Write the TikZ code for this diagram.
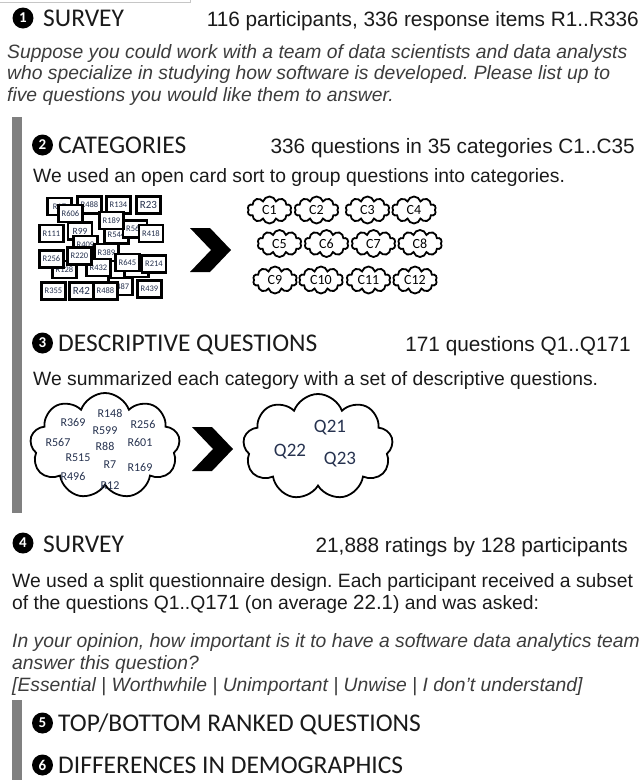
\documentclass[tikz,border=0pt]{standalone}
\usepackage{fontspec}
\setmainfont{Liberation Sans}
\newfontfamily\calfont{Carlito}
\usetikzlibrary{shapes.symbols}
\frenchspacing

\definecolor{bargray}{HTML}{808080}
\definecolor{ink}{HTML}{1A1A1A}
\definecolor{cardink}{HTML}{26324F}

\tikzset{
  stepnum/.style={circle, fill=black, text=white, inner sep=0pt, minimum size=21pt,
    font=\calfont\bfseries\fontsize{15}{15}\selectfont},
  head/.style={anchor=base west, inner sep=0pt, text=ink, font=\calfont\fontsize{25.5}{25.5}\selectfont},
  stat/.style={anchor=base east, inner sep=0pt, text=ink, font=\fontsize{20.8}{20.8}\selectfont},
  body/.style={anchor=base west, inner sep=0pt, text=ink, font=\fontsize{19.3}{19.3}\selectfont},
  quote/.style={body, text=ink!85, font=\itshape\fontsize{19.3}{19.3}\selectfont},
  card/.style={draw, line width=2.2pt, fill=white, inner sep=0pt, minimum width=24pt,
    minimum height=17pt, text=cardink},
  catcloud/.style={cloud, cloud puffs=10, cloud puff arc=150, cloud ignores aspect, draw,
    line width=1.8pt, fill=white, inner sep=0pt, minimum width=44pt, minimum height=27pt,
    font=\calfont\fontsize{14}{14}\selectfont},
  bigcloud/.style={cloud, cloud puffs=9, cloud puff arc=140, cloud ignores aspect, draw,
    line width=1.8pt, inner sep=0pt, minimum width=150pt, minimum height=106pt},
  rtag/.style={text=cardink, inner sep=0pt, font=\calfont\fontsize{12}{12}\selectfont},
  qtag/.style={text=cardink, inner sep=0pt, font=\calfont\fontsize{19}{19}\selectfont},
}

\newcommand{\chevronat}[2]{%
  \fill[black, shift={(#1,#2)}] (0,0) -- (20,0) -- (41,22) -- (20,44) -- (0,44) -- (21,22) -- cycle;}

\begin{document}
\begin{tikzpicture}[x=1pt, y=-1pt]
  \useasboundingbox (0,0) rectangle (643,780);

  \draw[gray!45, line width=0.6pt] (0,2) -- (190,2) -- (190,0);

  % side bars
  \fill[bargray] (12,117) rectangle (22,513);
  \fill[bargray] (12,700) rectangle (22,780);

  % 1 survey
  \node[stepnum] (n1) at (23,18) {1};
  \node[head] (h1) at (43,26) {SURVEY};
  \node[stat] (s1) at (639,26) {116 participants, 336 response items R1..R336};
  \node[quote] (q1a) at (7,58) {Suppose you could work with a team of data scientists and data analysts};
  \node[quote] (q1b) at (7,79.5) {who specialize in studying how software is developed. Please list up to};
  \node[quote] (q1c) at (7,101) {five questions you would like them to answer.};

  % 2 categories
  \node[stepnum] (n2) at (42.5,145) {2};
  \node[head] (h2) at (58,153) {CATEGORIES};
  \node[stat] (s2) at (635,153) {336 questions in 35 categories C1..C35};
  \node[body] (b2) at (33,182) {We used an open card sort to group questions into categories.};

  \foreach \cx/\cy/\lab/\fs [count=\i] in {
      59.5/206.5/R17/8.5, 89.5/205/R488/8.5, 118.5/205/R134/8.5, 148.5/205/R23/11,
      70.5/213.5/R606/8.5, 51.5/233.5/R111/8.5, 80/231/R99/9.5, 116.5/235/R544/8.5,
      135/229/R563/8.5, 111.5/220.5/R189/8.5, 151/233.5/R418/8.5,
      85.5/244.5/R409/8.5, 106.5/252.5/R389/8.5, 64.5/269.5/R128/8.5,
      136.5/268.5/{}/8.5, 51.5/259/R256/8.5, 98.5/267.5/R432/8.5,
      79.5/256/R220/8.5, 127.5/262.5/R645/8.5, 154/264/R214/8.5,
      120.5/286.5/R487/8.5, 53.5/291/R355/8.5, 81.5/291/R42/11,
      105.5/291/R488/8.5, 149.5/289/R439/8.5}
    \node[card, font=\calfont\fontsize{\fs}{\fs}\selectfont] (card\i) at (\cx,\cy) {\lab};

  \chevronat{190}{228}

  \foreach \lab/\cx/\cy in {
      C1/269.5/210, C2/316.5/210, C3/367.5/210, C4/414/210,
      C5/279.5/243.5, C6/326.5/243.5, C7/373.5/243.5, C8/420/243.5,
      C9/275/280, C10/321/280, C11/368.5/280, C12/415/280}
    \node[catcloud] (\lab) at (\cx,\cy) {\lab};

  % 3 descriptive questions
  \node[stepnum] (n3) at (42.5,343) {3};
  \node[head] (h3) at (58,351) {DESCRIPTIVE QUESTIONS};
  \node[stat] (s3) at (631,351) {171 questions Q1..Q171};
  \node[body] (b3) at (33,385) {We summarized each category with a set of descriptive questions.};

  \node[bigcloud] (pile) at (105,446) {};
  \foreach \lab/\cx/\cy in {
      R369/73/422, R148/110/413, R256/143/424, R599/105/431,
      R567/58/442, R88/105/446, R601/140/442, R515/78/458,
      R7/110/465, R169/140/467, R496/73/476, R12/110/486}
    \node[rtag] (t\lab) at (\cx,\cy) {\lab};

  \chevronat{192}{427}

  \node[bigcloud] (desc) at (318,447) {};
  \node[qtag] (Q21) at (330,428) {Q21};
  \node[qtag] (Q22) at (290,452) {Q22};
  \node[qtag] (Q23) at (340,460) {Q23};

  % 4 survey
  \node[stepnum] (n4) at (23,543) {4};
  \node[head] (h4) at (43,552) {SURVEY};
  \node[stat] (s4) at (628,552) {21,888 ratings by 128 participants};
  \node[body] (b4a) at (12,587) {We used a split questionnaire design. Each participant received a subset};
  \node[body] (b4b) at (12,609) {of the questions Q1..Q{\fontsize{20.5}{20.5}\selectfont 171} (on average {\fontsize{20.5}{20.5}\selectfont 22.1}) and was asked:};
  \node[quote] (q4a) at (12,647) {In your opinion, how important is it to have a software data analytics team};
  \node[quote] (q4b) at (12,669) {answer this question?};
  \node[quote] (q4c) at (12,691) {[Essential | Worthwhile | Unimportant | Unwise | I don’t understand]};

  % 5 and 6
  \node[stepnum] (n5) at (42.5,723) {5};
  \node[head] (h5) at (58,731) {TOP/BOTTOM RANKED QUESTIONS};
  \node[stepnum] (n6) at (42.5,765) {6};
  \node[head] (h6) at (58,773) {DIFFERENCES IN DEMOGRAPHICS};

\end{tikzpicture}
\end{document}
